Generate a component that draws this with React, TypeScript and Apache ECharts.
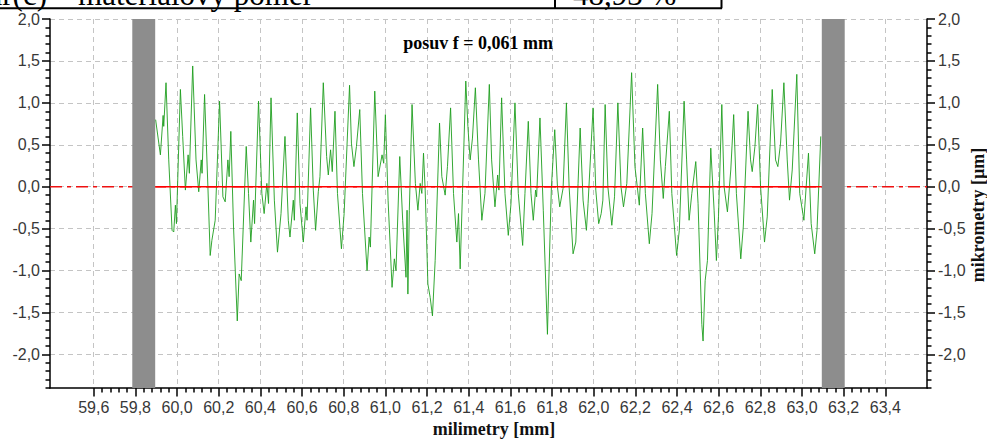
import React, { useEffect, useRef } from 'react';
import * as echarts from 'echarts';

// ---- axis ranges & ticks ----
const X_MIN = 59.39;
const X_MAX = 63.6;
const Y_MIN = -2.4;
const Y_MAX = 2.0;
const xMajorTicks = [59.6, 59.8, 60.0, 60.2, 60.4, 60.6, 60.8, 61.0, 61.2, 61.4, 61.6, 61.8, 62.0, 62.2, 62.4, 62.6, 62.8, 63.0, 63.2, 63.4];
const yMajorTicks = [-2.0, -1.5, -1.0, -0.5, 0.0, 0.5, 1.0, 1.5, 2.0];
const X_MINOR_DIV = 5; // 0.04 mm
const Y_MINOR_STEP = 0.1;

// ---- texts ----
const titleText = 'posuv f = 0,061 mm';
const xAxisName = 'milimetry [mm]';
const yAxisName = 'mikrometry [µm]';
const headerLabel = 'Rmr(c) – materiálový poměr';
const headerValue = '48,93 %';

// ---- evaluation limits (grey bands) and reference line ----
const bandRanges: [number, number][] = [[59.785, 59.895], [63.095, 63.205]];
const evalRange: [number, number] = [59.895, 63.095];

// ---- measured profile [mm, µm] ----
const profileA: [number, number][] = [
  [59.897, 0.80], [59.920, 0.38], [59.933, 0.85], [59.936, 0.72], [59.947, 1.24], [59.960, 0.32], [59.976, -0.52], [59.984, -0.54],
  [59.992, -0.22], [59.997, -0.44], [60.016, 1.16], [60.027, 0.60], [60.040, -0.04], [60.053, 0.38], [60.059, 0.16], [60.075, 1.44],
  [60.091, 0.32], [60.104, -0.06], [60.116, 0.32], [60.120, 0.16], [60.132, 1.10], [60.148, 0.00], [60.159, -0.82], [60.167, -0.64],
  [60.183, -0.40], [60.204, 1.02], [60.220, -0.12], [60.231, -0.18], [60.244, 0.32], [60.250, 0.12], [60.258, 0.66], [60.271, -0.48],
  [60.289, -1.60], [60.298, -1.04], [60.308, -1.12], [60.332, 0.48], [60.343, -0.08], [60.354, -0.66], [60.367, -0.16], [60.372, -0.44],
  [60.391, 1.02], [60.407, -0.08], [60.418, -0.32], [60.431, 0.04], [60.439, -0.20], [60.451, 1.06], [60.467, -0.16], [60.482, -0.78],
  [60.499, -0.32], [60.518, 0.60], [60.534, -0.40], [60.542, -0.60], [60.558, -0.16], [60.563, -0.40], [60.577, 0.88], [60.590, -0.20],
  [60.606, -0.66], [60.619, -0.24], [60.624, -0.40], [60.641, 0.94], [60.654, -0.04], [60.665, -0.52], [60.678, -0.06], [60.686, 0.12],
  [60.702, 1.24], [60.718, 0.36], [60.726, 0.14], [60.737, 0.44], [60.745, 0.18], [60.758, 0.90], [60.770, -0.08], [60.789, -0.74],
  [60.802, -0.32], [60.828, 1.21], [60.837, 0.52], [60.849, 0.24], [60.861, 0.48], [60.877, 0.92], [60.890, -0.08], [60.912, -1.00],
  [60.922, -0.60], [60.928, -0.72], [60.949, 1.14]
];
const profileB: [number, number][] = [
  [60.965, 0.12], [60.971, 0.20], [60.984, 0.38], [60.992, 0.28], [61.000, 0.86], [61.013, -0.16], [61.032, -1.20], [61.043, -0.86],
  [61.051, -1.00], [61.069, 0.36], [61.083, -0.40], [61.099, -1.08], [61.104, -0.28], [61.108, -1.28], [61.115, -0.28], [61.128, 0.98],
  [61.144, 0.04], [61.156, -0.28], [61.167, 0.04], [61.175, -0.08], [61.183, 0.40], [61.191, -0.04], [61.204, -1.16], [61.215, -1.32],
  [61.226, -1.54], [61.239, -0.88], [61.260, 0.76], [61.271, 0.12], [61.287, -0.10], [61.298, 0.24], [61.313, 0.94], [61.327, -0.08],
  [61.343, -0.66], [61.351, -0.32], [61.359, -0.98], [61.370, -0.08], [61.386, 1.26], [61.396, 0.72], [61.407, 0.32], [61.418, 0.58],
  [61.432, 1.18], [61.447, 0.32], [61.463, -0.40], [61.478, -0.08], [61.499, 1.22], [61.510, 0.32], [61.526, -0.24], [61.539, 0.14],
  [61.545, -0.04], [61.558, 1.06], [61.574, -0.08], [61.590, -0.58], [61.603, -0.20], [61.622, 1.00], [61.638, -0.08], [61.659, -0.70],
  [61.670, -0.08], [61.686, 0.78], [61.699, -0.08], [61.710, -0.40], [61.721, -0.04], [61.726, -0.12], [61.742, 0.82], [61.758, -0.28],
  [61.778, -1.76], [61.786, -0.98], [61.797, 0.00], [61.813, 0.68], [61.826, 0.00], [61.837, -0.24], [61.853, -0.02], [61.869, 1.00],
  [61.882, 0.00], [61.901, -0.80], [61.914, -0.66], [61.925, 0.04], [61.935, 0.70], [61.949, -0.16], [61.965, -0.52], [61.973, -0.20],
  [61.997, 0.94], [62.010, -0.04], [62.024, -0.44]
];
const profileC: [number, number][] = [
  [62.036, -0.32], [62.044, -0.16], [62.055, 0.98], [62.068, 0.00], [62.087, -0.46], [62.100, -0.12], [62.116, 1.00], [62.131, 0.00],
  [62.143, -0.24], [62.159, 0.04], [62.182, 1.36], [62.198, 0.24], [62.211, -0.04], [62.219, -0.22], [62.235, 0.70], [62.248, -0.08],
  [62.267, -0.68], [62.280, -0.32], [62.307, 1.22], [62.320, 0.32], [62.334, -0.14], [62.344, 0.24], [62.363, 0.90], [62.375, -0.08],
  [62.398, -0.82], [62.411, -0.52], [62.434, 1.02], [62.446, 0.32], [62.458, -0.40], [62.471, -0.08], [62.490, 0.30], [62.501, -0.20],
  [62.519, -1.64], [62.525, -1.84], [62.535, -1.12], [62.546, -0.88], [62.562, 0.46], [62.578, -0.28], [62.589, -0.88], [62.599, -0.36],
  [62.615, 0.98], [62.626, 0.00], [62.642, -0.30], [62.658, 0.20], [62.672, 0.86], [62.685, -0.08], [62.706, -0.86], [62.718, -0.48],
  [62.741, 0.90], [62.753, 0.32], [62.761, 0.18], [62.774, 0.48], [62.787, 0.98], [62.801, 0.00], [62.820, -0.66], [62.833, -0.36],
  [62.857, 1.16], [62.873, 0.32], [62.884, 0.24], [62.897, 0.52], [62.913, 1.24], [62.929, 0.32], [62.940, -0.16], [62.953, 0.20],
  [62.975, 1.34], [62.989, -0.08], [63.009, -0.40], [63.020, 0.00], [63.031, 0.40], [63.044, -0.44], [63.061, -0.80], [63.072, -0.52],
  [63.090, 0.60]
];

function buildXMinor(): number[] {
  const out: number[] = [];
  for (let i = 0; i < xMajorTicks.length - 1; i++) {
    const a = xMajorTicks[i];
    const b = xMajorTicks[i + 1];
    for (let k = 1; k < X_MINOR_DIV; k++) out.push(+(a + ((b - a) * k) / X_MINOR_DIV).toFixed(4));
  }
  return out;
}
function buildYMinor(): number[] {
  const out: number[] = [];
  const n = Math.round((Y_MAX - Y_MIN) / Y_MINOR_STEP);
  for (let i = 0; i <= n; i++) {
    const v = +(Y_MIN + i * Y_MINOR_STEP).toFixed(4);
    if (Math.abs(v * 2 - Math.round(v * 2)) > 1e-6) out.push(v);
  }
  return out;
}

const fmt = (v: number) => (Math.abs(v) < 1e-9 ? 0 : v).toFixed(1).replace('.', ',');

export default function App() {
  const ref = useRef<HTMLDivElement>(null);
  useEffect(() => {
    if (!ref.current) return;
    const chart = echarts.init(ref.current, undefined, { renderer: 'svg' });
    const xMinor = buildXMinor();
    const yMinor = buildYMinor();
    const labelStyle = { fontFamily: '"Liberation Sans", Arial, sans-serif', fontSize: 16, color: '#383838' };
    const axisLineStyle = { color: '#000', width: 1.5 };
    const splitStyle = { color: '#c4c4c4', width: 1, type: [5, 4] as number[] };
    const serifBold = 'bold 18px "Liberation Serif", "Times New Roman", serif';

    const majorY = (pos: 'left' | 'right', margin: number) => ({
      type: 'value', min: Y_MIN, max: Y_MAX, position: pos,
      axisLine: { show: true, onZero: false, lineStyle: axisLineStyle },
      axisTick: { show: true, length: 8, customValues: yMajorTicks, lineStyle: axisLineStyle },
      axisLabel: { show: true, customValues: yMajorTicks, formatter: fmt, margin, ...labelStyle },
      splitLine: { show: pos === 'left', lineStyle: splitStyle },
    });
    const minorY = (pos: 'left' | 'right') => ({
      type: 'value', min: Y_MIN, max: Y_MAX, position: pos,
      axisLine: { show: false, onZero: false },
      axisTick: { show: true, length: 4.5, customValues: yMinor, lineStyle: axisLineStyle },
      axisLabel: { show: false },
      splitLine: { show: false },
    });

    const option: any = {
      animation: false,
      grid: { left: 50, right: 60, top: 19, bottom: 51, show: true, backgroundColor: '#ffffff', borderWidth: 0, containLabel: false, outerBoundsMode: 'none' },
      xAxis: [
        {
          type: 'value', min: X_MIN, max: X_MAX, position: 'bottom',
          axisLine: { show: true, onZero: false, lineStyle: axisLineStyle },
          axisTick: { show: true, length: 8.5, customValues: xMajorTicks, lineStyle: axisLineStyle },
          axisLabel: { show: true, customValues: xMajorTicks, formatter: fmt, margin: 11, ...labelStyle },
          splitLine: { show: true, lineStyle: splitStyle },
        },
        {
          type: 'value', min: X_MIN, max: X_MAX, position: 'bottom',
          axisLine: { show: false, onZero: false },
          axisTick: { show: true, length: 4.5, customValues: xMinor, lineStyle: axisLineStyle },
          axisLabel: { show: false },
          splitLine: { show: false },
        },
      ],
      yAxis: [majorY('left', 10), minorY('left'), majorY('right', 11), minorY('right')],
      series: [
        {
          type: 'line', name: 'ref-dashdot', xAxisIndex: 0, yAxisIndex: 0, z: 2,
          data: [[X_MIN, 0], [X_MAX, 0]], showSymbol: false, silent: true,
          lineStyle: { color: '#ee1111', width: 1.5, type: [12, 5, 4, 5] },
        },
        {
          type: 'line', name: 'profile', xAxisIndex: 0, yAxisIndex: 0, z: 3,
          data: [...profileA, ...profileB, ...profileC], showSymbol: false, silent: true,
          lineStyle: { color: '#1f9f1f', width: 1, opacity: 0.9 },
        },
        {
          type: 'line', name: 'ref-solid', xAxisIndex: 0, yAxisIndex: 0, z: 4,
          data: [[evalRange[0], 0], [evalRange[1], 0]], showSymbol: false, silent: true,
          lineStyle: { color: '#ff0000', width: 1.5 },
        },
        {
          type: 'custom', name: 'bands', xAxisIndex: 0, yAxisIndex: 0, z: 5, silent: true,
          data: bandRanges,
          renderItem: (params: any, api: any) => {
            const p0 = api.coord([api.value(0), Y_MAX]);
            const p1 = api.coord([api.value(1), Y_MIN]);
            return {
              type: 'rect',
              shape: { x: p0[0], y: p0[1], width: p1[0] - p0[0], height: p1[1] - p0[1] },
              style: { fill: '#8d8d8d' },
            };
          },
        },
      ],
      graphic: {
        elements: [
          {
            type: 'text', x: 478, y: 43, z: 10,
            style: { text: titleText, font: serifBold, fill: '#000', align: 'center', verticalAlign: 'middle', textAlign: 'center', textVerticalAlign: 'middle' },
          },
          {
            type: 'text', x: 494, y: 429, z: 10,
            style: { text: xAxisName, font: serifBold, fill: '#111', align: 'center', verticalAlign: 'middle', textAlign: 'center', textVerticalAlign: 'middle' },
          },
          {
            type: 'text', x: 978, y: 215, rotation: Math.PI / 2, z: 10,
            style: { text: yAxisName, font: serifBold, fill: '#111', align: 'center', verticalAlign: 'middle', textAlign: 'center', textVerticalAlign: 'middle' },
          },
          {
            type: 'text', x: -42.5, y: -6, z: 10,
            style: { text: headerLabel, font: '31px "Liberation Serif", "Times New Roman", serif', fill: '#000', align: 'left', verticalAlign: 'middle', textAlign: 'left', textVerticalAlign: 'middle' },
          },
          {
            type: 'text', x: 573, y: -6, z: 10,
            style: { text: headerValue, font: '31px "Liberation Serif", "Times New Roman", serif', fill: '#000', align: 'left', verticalAlign: 'middle', textAlign: 'left', textVerticalAlign: 'middle' },
          },
          { type: 'line', z: 10, shape: { x1: 0, y1: 8.3, x2: 722, y2: 8.3 }, style: { stroke: '#000', lineWidth: 2 } },
          { type: 'line', z: 10, shape: { x1: 555, y1: 0, x2: 555, y2: 8.3 }, style: { stroke: '#000', lineWidth: 2 } },
          { type: 'line', z: 10, shape: { x1: 721.5, y1: 0, x2: 721.5, y2: 8.3 }, style: { stroke: '#000', lineWidth: 2 } },
        ],
      },
    };
    chart.setOption(option);
    return () => chart.dispose();
  }, []);
  return (
    <div
      ref={ref}
      style={{ position: 'absolute', left: 0, top: 0, width: 987, height: 439, background: '#ffffff' }}
    />
  );
}
